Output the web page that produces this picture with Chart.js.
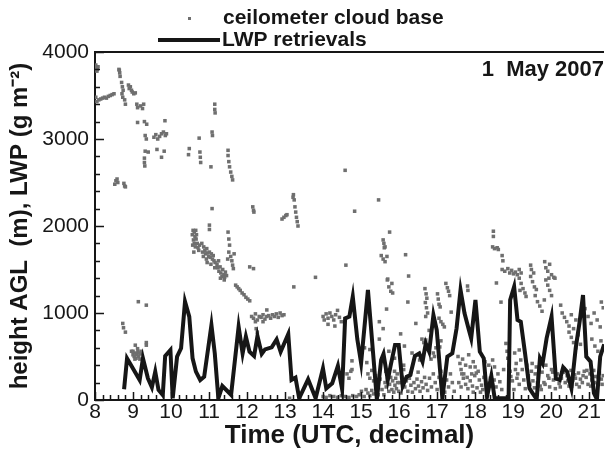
<!DOCTYPE html>
<html><head><meta charset="utf-8">
<script src="https://cdn.jsdelivr.net/npm/chart.js@4.4.0/dist/chart.umd.min.js"></script>
<style>html,body{margin:0;padding:0;background:#fff}#wrap{width:608px;height:449px}</style>
</head><body><div id="wrap"><canvas id="c" width="608" height="449"></canvas></div>
<script>
// ---------- data ----------
const xTickLabels = [8,9,10,11,12,13,14,15,16,17,18,19,20,21];
const yTickLabels = [0,1000,2000,3000,4000];
const seriesNames = ['ceilometer cloud base','LWP retrievals'];
const dateLabel = '1  May 2007';

const lwpTime = [8.765,8.843,9.175,9.261,9.392,9.496,9.585,9.671,9.783,9.846,9.984,10.044,10.159,10.264,10.368,10.480,10.567,10.655,10.768,10.872,11.063,11.151,11.245,11.350,11.58,11.778,11.883,11.969,12.065,12.185,12.274,12.386,12.473,12.648,12.778,12.883,13.084,13.170,13.274,13.371,13.606,13.804,13.997,14.084,14.24,14.389,14.501,14.580,14.692,14.781,14.90,15.00,15.18,15.415,15.527,15.590,15.702,15.789,15.893,15.990,16.094,16.198,16.295,16.415,16.530,16.616,16.702,16.791,16.903,16.990,17.138,17.269,17.400,17.512,17.616,17.721,17.836,17.896,18.008,18.123,18.227,18.313,18.426,18.514,18.72,18.880,18.921,19.026,19.115,19.201,19.313,19.428,19.514,19.619,19.705,19.775,19.880,20.010,20.123,20.227,20.316,20.420,20.533,20.645,20.749,20.838,20.924,21.037,21.125,21.204,21.29,21.394];
const lwpValue = [123,479,230,479,249,146,326,115,57,506,575,20,498,594,1130,958,479,326,230,268,862,536,20,160,60,843,536,728,555,506,736,530,582,605,697,555,759,230,257,20,238,20,364,134,192,391,123,939,958,1187,700,425,1264,8,460,529,230,421,632,632,161,268,287,506,536,441,651,555,977,805,20,498,536,824,1264,996,805,709,1149,555,479,38,276,20,20,20,1149,1302,920,900,536,134,77,8,479,421,709,958,249,230,376,326,134,594,900,1207,498,441,77,8,498,640];

const ceilometerMorning = [
[8.02,3850],[8.04,3820],[8.06,3800],[8.08,3830],[8.05,3780],
[8.63,3800],[8.65,3760],[8.66,3720],[8.64,3790],
[8.70,3650],[8.72,3600],[8.74,3560],[8.71,3520],[8.73,3480],[8.78,3450],[8.80,3400],
[8.02,3480],[8.05,3430],[8.10,3450],[8.15,3460],[8.20,3470],[8.25,3480],[8.30,3470],[8.35,3490],[8.40,3500],[8.45,3510],[8.50,3520],
[8.88,3620],[8.90,3580],[8.93,3600],[8.96,3560],[8.98,3540],[9.02,3520],[9.06,3530],
[9.10,3400],[9.12,3360],[9.20,3380],[9.25,3350],[9.28,3400],
[9.12,3190],[9.30,3200],[9.36,3170],
[9.32,3040],[9.35,3000],[9.55,3020],[9.60,3050],[9.65,3000],[9.70,3030],[9.75,3060],[9.80,3080],[9.85,3040],[9.88,3060],[9.84,3210],
[9.32,2860],[9.40,2850],[9.63,2880],[9.75,2790],[9.82,2860],
[9.30,2780],[9.30,2730],[9.31,2690],
[8.52,2480],[8.55,2520],[8.58,2540],[8.60,2500],[8.76,2490],[8.78,2460],[8.80,2450],
[9.14,1130],[9.35,1090],
[8.73,880],[8.75,830],[8.80,780],
[8.96,560],[9.00,520],[9.03,500],[9.06,540],[9.08,480],[9.10,520],[9.13,560],[9.15,500],[9.18,470],[9.20,530],[9.22,560],
[9.06,630],[9.35,660],[9.35,630],[9.00,560],[9.05,470],[9.12,590],[9.17,540]
];
const ceilometerMidday = [
[11.15,3400],[11.15,3340],[11.16,3300],[11.08,3080],[11.09,3040],[10.74,3010],[10.48,2890],[10.46,2820],[10.76,2850],[10.77,2790],[10.78,2730],[11.05,2680],
[11.50,2870],[11.50,2810],[11.52,2740],[11.54,2680],[11.57,2620],[11.60,2570],[11.62,2530],
[11.08,2200],[12.15,2220],[12.17,2180],[12.18,2160],
[12.92,2080],[12.97,2100],[13.02,2120],[13.05,2130],
[13.22,2360],[13.24,2300],[13.26,2220],[13.28,2160],[13.30,2100],[13.32,2050],[13.34,2000],[13.21,2330],
[10.56,1900],[10.58,1950],[10.61,1930],[10.63,1880],[10.59,1840],[10.61,1800],[10.64,1760],[10.66,1850],[10.69,1800],[10.71,1750],[10.57,1780],[10.67,1900],[10.73,1720],
[10.81,1800],[10.86,1760],[10.89,1720],[10.91,1680],[10.94,1740],[10.96,1690],[10.99,1650],[11.01,1700],[11.03,1640],[11.06,1680],[11.09,1620],[11.11,1660],[11.13,1600],[10.83,1700],[10.93,1620],[11.16,1580],
[11.21,1560],[11.23,1520],[11.26,1480],[11.29,1530],[11.31,1460],[11.34,1420],[11.36,1500],[11.39,1440],[11.41,1410],[11.43,1470],[11.46,1430],[11.25,1600],
[11.50,1930],[11.52,1850],[11.54,1780],[11.52,1700],[11.57,1650],[11.60,1600],[11.62,1550],[11.64,1510],[11.49,1620],[11.66,1680],
[10.60,1700],[10.65,1950],[10.75,1780],[10.85,1650],[10.95,1580],[11.05,1560],[11.15,1520],[11.30,1400],[11.40,1380],
[11.01,1960],[11.01,2010],[12.07,1530],[12.17,1510],[13.80,1410],
[11.70,1320],[11.74,1300],[11.78,1280],[11.82,1260],[11.87,1230],[11.92,1210],[11.97,1180],[12.02,1160],[12.07,1140],
[12.12,960],[12.17,940],[12.22,990],[12.27,920],[12.32,960],[12.37,950],[12.42,980],[12.47,930],[12.52,960],[12.57,970],[12.62,940],[12.67,980],[12.72,960],[12.77,990],[12.82,950],[12.87,1000],[12.92,970],[12.97,980],[12.22,900],[12.42,900],
[12.24,820],[12.27,780],[12.52,1035],[13.23,1300],
[14.00,960],[14.03,920],[14.08,990],[14.13,940],[14.18,1000],[14.23,960],[14.28,920],[14.33,980],[14.38,1030],[14.43,950],[14.48,900],[14.13,870],[14.31,850],
[13.17,240],[13.22,250],[13.12,20]
];
const ceilometerAfternoon = [
[14.58,2640],[14.83,2170],[15.46,2300],[15.75,1930],[14.60,1550],
[15.58,1840],[15.60,1800],[15.63,1760],[15.61,1750],
[15.53,1660],[15.58,1620],[15.63,1590],[15.68,1650],[15.70,1390],
[14.76,450],[14.76,350],[14.63,300],[14.68,250],[14.73,330],
[14.00,40],[14.08,30],[14.18,50],[14.28,40],[14.38,30],[14.48,50],[14.58,40],[14.68,30],[14.78,50],[14.88,40],
[14.95,60],[15.01,100],[15.08,40],[15.13,120],[15.18,80],[15.23,50],[15.28,110],[15.33,70],
[15.09,600],[15.23,580],[15.15,430],
[15.18,300],[15.23,250],[15.28,340],[15.33,220],[15.38,280],[15.43,200],
[15.48,900],[15.67,1045],
[15.69,1380],[15.73,1300],[15.78,1250],[15.81,1340],[15.83,1230],
[15.63,200],[15.66,150],[15.69,240],[15.73,100],[15.75,180],[15.78,260],[15.81,120],[15.83,220],[15.86,90],[15.89,170],[15.91,250],[15.93,130],[15.96,200],[15.99,100],[15.71,300],[15.88,330],
[15.40,150],[15.45,60],[15.50,240],[15.55,120],[15.60,60],[15.65,330],[15.95,300],[16.02,200],[16.05,80],[16.08,260],
[15.48,700],[15.58,820],[15.73,560],[15.88,480],
[16.17,1670],[16.25,1425],[16.12,400],[16.12,350],[16.23,1126],
[16.15,150],[16.19,220],[16.23,100],[16.27,250],[16.31,170],[16.35,90],[16.39,200],[16.43,130],[16.47,240],[16.51,160],[16.55,100],[16.59,210],[16.63,140],[16.67,260],[16.71,180],[16.75,110],[16.30,300],[16.50,320],
[16.80,250],[16.85,150],[16.90,300],[16.95,200],[17.00,120],[17.05,260],[17.10,330],[17.15,180],[17.20,90],[17.25,230],[17.30,150],[17.35,300],[17.40,200],[17.45,100],
[16.60,700],[16.65,660],[16.70,690],
[16.68,1280],[16.71,1220],[16.73,1170],[16.69,1120],[16.72,1060],[16.75,1000],[16.70,960],
[17.01,1220],[17.03,1160],[17.05,1100],[17.08,1070],
[17.23,1340],[17.27,1290],[17.30,1250],[17.33,1200],
[17.05,940],[17.10,900],[17.15,870],[17.19,840],
[17.80,1310],[17.81,1260],
[17.03,650],[17.07,610],[17.10,680],
[16.90,540],[16.93,500],[16.97,600],[17.37,1010],
[17.55,500],[17.60,420],[17.63,350],[17.67,470],[17.70,300],[17.75,400],[17.79,260],[17.83,520],[17.87,380],[17.91,300],[17.95,440],
[17.57,200],[17.63,150],[17.69,250],[17.75,180],[17.81,130],[17.87,220],[17.93,160],[17.99,280],[18.05,140],[18.11,230],[18.17,170],[18.23,260],[17.65,300],[18.03,310],
[17.95,90],[18.00,380],[18.08,330],[18.14,90],[18.20,120],
[16.04,760],[16.14,620],[16.34,540],[16.44,880],[16.54,460],[16.79,800],[16.84,470]
];
const ceilometerEvening = [
[18.48,1940],[18.48,1880],[18.46,1760],[18.51,1740],[18.58,1750],[18.61,1730],[18.71,1660],[18.73,1600],
[18.71,1500],[18.78,1480],[18.86,1510],[18.91,1460],[18.96,1490],[19.01,1450],[19.06,1470],[19.11,1440],[19.16,1500],[19.21,1460],
[19.46,1550],[19.48,1500],
[19.83,1590],[19.86,1520],[19.91,1480],[19.96,1560],[20.01,1440],[20.07,1410],[20.10,1400],
[18.56,1345],[18.68,1125],
[19.16,1400],[19.21,1340],[19.26,1280],[19.31,1230],[19.34,1190],[19.18,1260],
[19.46,1420],[19.51,1360],[19.56,1300],[19.61,1270],[19.54,1460],
[19.86,1380],[19.91,1320],[19.96,1260],[20.01,1200],[19.94,1400],
[19.58,1200],[19.64,1130],[19.70,1080],[19.76,1020],[19.82,1150],
[20.25,1090],
[20.29,1000],[20.35,950],[20.41,900],[20.47,850],[20.53,980],[20.59,820],[20.65,920],
[20.47,780],[20.53,720],[20.59,660],[20.65,600],[20.71,750],[20.77,640],
[20.89,1050],[20.97,960],[21.05,880],[21.13,1000],[21.21,920],[21.29,840],[21.37,1060],[21.32,1126],
[21.07,700],[21.15,620],[21.23,560],[21.31,680],
[18.26,440],[18.36,400],[18.46,460],[18.51,380],
[18.81,650],[18.84,560],[18.86,480],[18.89,400],[18.92,330],[18.94,270],
[19.04,540],[19.08,420],[19.12,300],[19.16,180],[19.20,460],[19.24,350],[19.28,230],[19.32,130],[19.36,400],[19.40,280],[19.44,180],[19.48,330],[19.52,220],[19.56,140],[19.16,575],
[19.61,380],[19.66,260],[19.71,160],[19.76,320],[19.81,200],[19.86,400],[19.91,280],[19.96,150],[20.01,350],[20.06,230],[20.11,130],[20.16,300],[20.21,190],
[20.27,250],[20.32,320],[20.37,200],[20.42,280],[20.47,160],[20.52,340],[20.57,230],[20.62,290],[20.67,180],[20.72,310],[20.77,240],[20.82,200],[20.87,330],[20.92,260],[20.97,180],[21.02,300],[21.07,230],[21.12,340],[21.17,270],[21.22,190],[21.27,310],[21.32,240],[21.37,280],
[18.60,300],[18.65,210],[18.70,120],[18.75,350],[18.98,220],[19.02,120],[19.06,350],[19.10,250],
[19.50,420],[19.58,300],[19.64,200],[19.74,120],[19.84,180],[19.94,250],[20.04,320],[20.14,240],[20.24,150],[20.34,360],[20.44,220],[20.54,160],[20.64,250],[20.74,150],[20.84,280],[20.94,340],[21.04,160],[21.14,200],[21.24,260],[21.34,180],
[18.28,200],[18.34,140],[18.40,250],[18.46,170],[18.50,230],[18.55,150]
];

// ---------- chart ----------
const FONT = "'Liberation Sans', Arial, Helvetica, sans-serif";
const INK = '#161616';
const DOT = '#6f6f6f';

const cloudPts = [...ceilometerMorning, ...ceilometerMidday, ...ceilometerAfternoon, ...ceilometerEvening]
  .map(p => ({x: p[0], y: p[1]}));
const lwpPts = lwpTime.map((t, i) => ({x: t, y: lwpValue[i]}));

const frame = {
  id: 'frame',
  afterDatasetsDraw(chart) {
    const {ctx, chartArea: a, scales: {x, y}} = chart;
    ctx.save();
    ctx.strokeStyle = INK;
    ctx.lineWidth = 1.5;
    ctx.beginPath();
    const yStep = (yTickLabels[1] - yTickLabels[0]) / 5;
    for (let v = yTickLabels[0]; v <= yTickLabels[yTickLabels.length - 1] + 1; v += yStep) {
      const py = Math.round(y.getPixelForValue(v)) + 0.5;
      const major = Math.abs(v / (yStep * 5) - Math.round(v / (yStep * 5))) < 1e-6;
      ctx.moveTo(a.left, py); ctx.lineTo(a.left + (major ? 9 : 5), py);
    }
    const xStep = (xTickLabels[1] - xTickLabels[0]) / 5;
    for (let i = 0; ; i++) {
      const t = xTickLabels[0] + i * xStep;
      if (t > x.max + 1e-9) break;
      const px = Math.round(x.getPixelForValue(t)) + 0.5;
      ctx.moveTo(px, a.bottom); ctx.lineTo(px, a.bottom - (i % 5 === 0 ? 8 : 5));
    }
    ctx.stroke();
    ctx.lineWidth = 2;
    ctx.beginPath();
    ctx.moveTo(a.left, a.top); ctx.lineTo(a.right, a.top);
    ctx.stroke();
    ctx.restore();
  },
  afterDraw(chart) {
    const {ctx, chartArea: a} = chart;
    const ds = chart.data.datasets;
    ctx.save();
    ctx.fillStyle = INK;
    ctx.textBaseline = 'middle';
    ctx.font = 'bold 21px ' + FONT;
    ctx.fillStyle = ds[1].pointBackgroundColor;
    ctx.fillRect(188, 17, 3, 3);
    ctx.fillStyle = INK;
    ctx.textAlign = 'left';
    ctx.fillText(ds[1].label, 223, 18);
    ctx.strokeStyle = ds[0].borderColor;
    ctx.lineWidth = ds[0].borderWidth;
    ctx.beginPath(); ctx.moveTo(158, 40); ctx.lineTo(220, 40); ctx.stroke();
    ctx.fillText(ds[0].label, 222, 40);
    ctx.font = 'bold 22px ' + FONT;
    ctx.textAlign = 'right';
    ctx.fillText(dateLabel, 604, a.top + 18);
    ctx.restore();
  }
};

new Chart(document.getElementById('c'), {
  type: 'scatter',
  data: {
    datasets: [
      {
        label: seriesNames[1],
        data: lwpPts,
        showLine: true,
        borderColor: INK,
        backgroundColor: INK,
        borderWidth: 4,
        borderJoinStyle: 'miter',
        tension: 0,
        pointRadius: 0,
        order: 0
      },
      {
        label: seriesNames[0],
        data: cloudPts,
        showLine: false,
        pointStyle: 'rect',
        pointRadius: 2.5,
        pointBorderWidth: 0,
        pointBackgroundColor: DOT,
        backgroundColor: DOT,
        borderColor: DOT,
        order: 1
      }
    ]
  },
  options: {
    responsive: false,
    animation: false,
    devicePixelRatio: 1,
    layout: {padding: {left: 6, top: 52, right: 0, bottom: 0}},
    plugins: {legend: {display: false}, tooltip: {enabled: false}, title: {display: false}},
    scales: {
      x: {
        type: 'linear',
        min: 8, max: 21.39,
        afterBuildTicks: s => { s.ticks = xTickLabels.map(v => ({value: v})); },
        afterFit: s => { s.height = 49; },
        grid: {display: false, drawTicks: false},
        border: {display: true, color: INK, width: 2},
        ticks: {color: INK, font: {family: FONT, size: 21, lineHeight: 1}, padding: 2, maxRotation: 0, autoSkip: false, callback: v => String(v)},
        title: {display: true, text: 'Time (UTC, decimal)', color: INK, font: {family: FONT, size: 26, weight: 'bold', lineHeight: 1}, padding: {top: 0, bottom: 0}}
      },
      y: {
        type: 'linear',
        min: 0, max: 4000,
        afterBuildTicks: s => { s.ticks = yTickLabels.map(v => ({value: v})); },
        afterFit: s => { s.width = 89; },
        grid: {display: false, drawTicks: false},
        border: {display: true, color: INK, width: 2},
        ticks: {color: INK, font: {family: FONT, size: 21, lineHeight: 1}, padding: 6, callback: v => String(v)},
        title: {display: true, text: 'height AGL  (m), LWP (g m\u207B\u00B2)', color: INK, font: {family: FONT, size: 24, weight: 'bold', lineHeight: 1}, padding: {top: 2, bottom: 0}}
      }
    }
  },
  plugins: [frame]
});
</script></body></html>
